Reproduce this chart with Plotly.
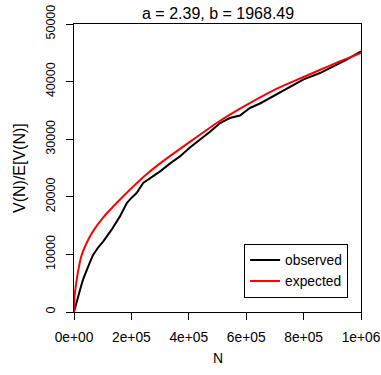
import plotly.graph_objects as go

# Observed vocabulary growth
obs_n = [0, 5000, 10000, 21000, 32000, 44000, 56000, 67000, 84000, 102000, 131000,
         160000, 184000, 200000, 218000, 241000, 270000, 300000, 335000, 369000,
         405000, 439000, 474000, 509000, 543000, 578000, 613000, 648000, 683000,
         718000, 753000, 800000, 857000, 900000, 950000, 1000000]
obs_v = [0, 1000, 1800, 3870, 5700, 7340, 8700, 9950, 11200, 12260, 14290,
         16600, 18920, 19800, 20660, 22400, 23400, 24410, 25800, 27010,
         28600, 29910, 31300, 32810, 33680, 34100, 35420, 36200, 37150,
         38050, 39060, 40400, 41490, 42500, 43800, 45240]

# Expected curve
exp_n = [0, 2000, 5000, 10000, 17000, 25000, 37000, 50000, 70000, 100000, 150000,
         200000, 250000, 300000, 400000, 500000, 600000, 700000, 800000, 900000,
         1000000]
exp_v = [0, 2700, 4000, 5800, 7800, 9600, 11200, 12600, 14300, 16300, 19000,
         21500, 23800, 25800, 29400, 32900, 35900, 38600, 40800, 42950, 44960]

x_ticks = [0, 200000, 400000, 600000, 800000, 1000000]
x_labels = ["0e+00", "2e+05", "4e+05", "6e+05", "8e+05", "1e+06"]
y_ticks = [0, 10000, 20000, 30000, 40000, 50000]
y_labels = ["0", "10000", "20000", "30000", "40000", "50000"]

FONT = "Liberation Sans, Arial, sans-serif"

fig = go.Figure()
fig.add_trace(go.Scatter(x=obs_n, y=obs_v, mode="lines", name="observed",
                         line=dict(color="black", width=2)))
fig.add_trace(go.Scatter(x=exp_n, y=exp_v, mode="lines", name="expected",
                         line=dict(color="red", width=2, shape="spline", smoothing=0.6)))

axis_common = dict(showgrid=False, zeroline=False, showline=True, linecolor="black",
                   linewidth=1, mirror=True, ticks="outside", ticklen=7,
                   tickcolor="black", tickwidth=1, automargin=False)

fig.update_layout(
    width=381, height=375, autosize=False,
    margin=dict(l=74, r=20, t=24, b=63),
    paper_bgcolor="white", plot_bgcolor="white",
    font=dict(family=FONT, size=13, color="black"),
    xaxis=dict(range=[0, 1000000], tickvals=x_ticks, ticktext=x_labels,
               ticklabelstandoff=5,
               tickfont=dict(family=FONT, size=13.8, color="black"), **axis_common),
    yaxis=dict(range=[0, 50000], tickvals=y_ticks, ticktext=y_labels,
               tickangle=-90, ticklabelstandoff=6,
               tickfont=dict(family=FONT, size=12.5, color="black"), **axis_common),
    showlegend=True,
    legend=dict(x=0.955, y=0.05, xanchor="right", yanchor="bottom",
                bordercolor="black", borderwidth=1, bgcolor="white",
                font=dict(family=FONT, size=13.8, color="black"),
                tracegroupgap=0, itemwidth=30),
    annotations=[
        dict(text="a = 2.39, b = 1968.49", xref="paper", yref="paper",
             x=0.5, y=1, yshift=11, showarrow=False, xanchor="center",
             yanchor="middle", font=dict(family=FONT, size=16, color="black")),
        dict(text="N", xref="paper", yref="paper", x=0.5, y=0, yshift=-46,
             showarrow=False, xanchor="center", yanchor="middle",
             font=dict(family=FONT, size=14, color="black")),
        dict(text="V(N)/E[V(N)]", xref="paper", yref="paper", x=0, y=0.5,
             xshift=-55, textangle=-90, showarrow=False, xanchor="center",
             yanchor="middle", font=dict(family=FONT, size=16, color="black")),
    ],
)

fig.write_html("out.html", config={"displayModeBar": False})

# remove the browser's default body margin so the figure starts at (0, 0)
with open("out.html", encoding="utf-8") as f:
    html = f.read()
html = html.replace("<head>", "<head><style>html,body{margin:0;padding:0;overflow:hidden;}</style>", 1)
with open("out.html", "w", encoding="utf-8") as f:
    f.write(html)
